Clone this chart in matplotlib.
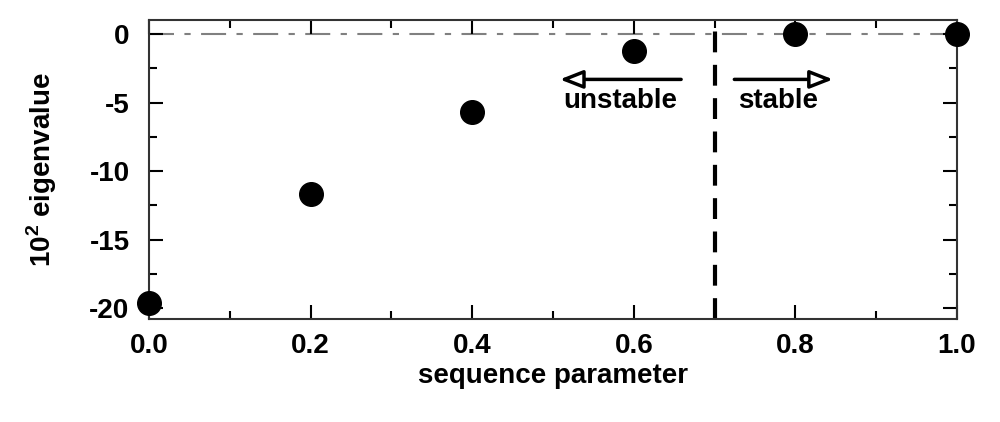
import numpy as np
import matplotlib.pyplot as plt
from matplotlib.ticker import MultipleLocator

plt.rcParams['font.family'] = ['Liberation Sans', 'DejaVu Sans']
plt.rcParams['font.weight'] = 'bold'
plt.rcParams['axes.unicode_minus'] = False
plt.rcParams['mathtext.fontset'] = 'custom'
plt.rcParams['mathtext.bf'] = 'Liberation Sans:bold'

# data
seq_param = [0.0, 0.2, 0.4, 0.6, 0.8, 1.0]
eigval = [-19.6, -11.7, -5.7, -1.2, 0.0, 0.0]
x_crit = 0.7

fig = plt.figure(figsize=(10, 4.22), dpi=100)
ax = fig.add_axes([0.149, 0.244, 0.808, 0.709])

ax.axhline(0, color='gray', lw=1.5, ls=(0, (12, 5, 3, 5)), zorder=1)
ax.axvline(x_crit, color='black', lw=3, ls=(0, (5, 3)), zorder=2)
ax.plot(seq_param, eigval, 'o', color='black', ms=17, clip_on=False, zorder=3)

# arrows
aprops = dict(arrowstyle='-|>,head_length=1.4,head_width=0.55',
              lw=2.5, color='black', fc='white')
ax.annotate('', xy=(0.505, -3.3), xytext=(0.662, -3.3), arrowprops=aprops)
ax.annotate('', xy=(0.85, -3.3), xytext=(0.721, -3.3), arrowprops=aprops)
ax.text(0.583, -4.85, 'unstable', ha='center', va='center', fontsize=20, fontweight='bold')
ax.text(0.779, -4.85, 'stable', ha='center', va='center', fontsize=20, fontweight='bold')

ax.set_xlim(0, 1.0)
ax.set_ylim(-20.8, 1.05)
ax.set_xticks(np.arange(0, 1.01, 0.2))
ax.set_yticks([-20, -15, -10, -5, 0])
ax.xaxis.set_minor_locator(MultipleLocator(0.1))
ax.yaxis.set_minor_locator(MultipleLocator(2.5))
ax.tick_params(which='both', direction='in', top=True, right=True, width=1.5)
ax.tick_params(which='major', length=10, labelsize=20)
ax.tick_params(axis='x', which='major', pad=10)
ax.tick_params(axis='y', which='major', pad=14)
ax.tick_params(which='minor', length=6)
ax.set_xticklabels(['0.0', '0.2', '0.4', '0.6', '0.8', '1.0'])
for lbl in ax.get_xticklabels() + ax.get_yticklabels():
    lbl.set_fontweight('bold')
for s in ax.spines.values():
    s.set_linewidth(1.5)
    s.set_color('#333333')

ax.set_xlabel('sequence parameter', fontsize=20, fontweight='bold', labelpad=3)
ax.set_ylabel(r'10$^{\mathbf{2}}$ eigenvalue', fontsize=20, fontweight='bold', labelpad=22)

plt.savefig('out.png', dpi=100)
